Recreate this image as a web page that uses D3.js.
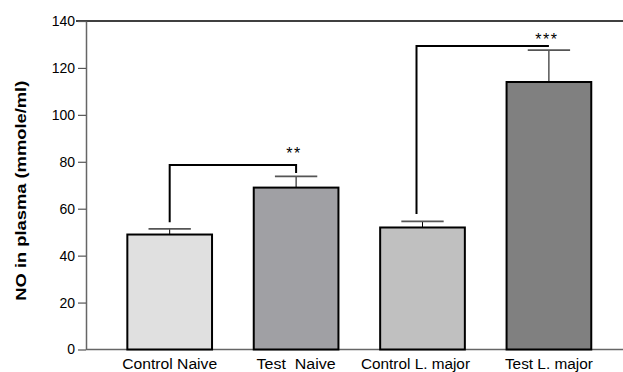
<!DOCTYPE html>
<html>
<head>
<meta charset="utf-8">
<script src="https://cdn.jsdelivr.net/npm/d3@7"></script>
<style>
  html, body { margin: 0; padding: 0; background: #fff; }
  svg { display: block; }
  text { font-family: Arial, "Liberation Sans", sans-serif; }
</style>
</head>
<body>
<svg id="chart" width="623" height="372"></svg>
<script>
const categories = ["Control Naive", "Test  Naive", "Control L. major", "Test L. major"];
const values = [49, 69, 52, 114];
const errors = [2.4, 4.8, 2.6, 13.6];
const barColors = ["#e0e0e0", "#a0a0a4", "#c0c0c0", "#808080"];
const yTicks = [0, 20, 40, 60, 80, 100, 120, 140];
const labelWidths = [95, 79, 109, 88];
const brackets = [
  { from: 0, to: 1, level: 78.6, leftEnd: 54.2, rightEnd: 75.2, label: "**", labelLevel: 85.4 },
  { from: 2, to: 3, level: 129.3, leftEnd: 57.7, rightEnd: 129.3, label: "***", labelLevel: 133.7 }
];

(function () {
const svg = d3.select("#chart");
const mLeft = 86, mBottom = 349.5, mTop = 21, mRight = 632.6;

const x = d3.scaleBand().domain(categories).range([mLeft, mRight]).paddingInner(0.33).paddingOuter(0.327);
const y = d3.scaleLinear().domain([0, 140]).range([mBottom, mTop]);
const bw = x.bandwidth();
const cx = c => x(c) + bw / 2;

// top frame line
svg.append("line")
  .attr("x1", 76).attr("x2", 623)
  .attr("y1", y(140)).attr("y2", y(140))
  .attr("stroke", "#000").attr("stroke-width", 1.3);

// y axis
const yAxis = svg.append("g")
  .attr("transform", `translate(${mLeft},0)`)
  .call(d3.axisLeft(y).tickValues(yTicks).tickSize(8).tickPadding(3).tickSizeOuter(0));
yAxis.select(".domain").attr("stroke", "#666").attr("stroke-width", 1.5);
yAxis.selectAll(".tick line").attr("stroke", "#555").attr("stroke-width", 1.2);
yAxis.selectAll(".tick text")
  .attr("font-size", 14).attr("fill", "#000")
  .attr("font-family", "Arial, 'Liberation Sans', sans-serif");

// x axis line
svg.append("line")
  .attr("x1", mLeft).attr("x2", 623)
  .attr("y1", mBottom).attr("y2", mBottom)
  .attr("stroke", "#666").attr("stroke-width", 1.5);

// y title
svg.append("text")
  .attr("transform", `translate(26,${(80.7 + 300.7) / 2}) rotate(-90)`)
  .attr("text-anchor", "middle")
  .attr("font-size", 14).attr("font-weight", "bold")
  .attr("textLength", 220).attr("lengthAdjust", "spacingAndGlyphs")
  .text("NO in plasma (mmole/ml)");

// error bars
categories.forEach((c, i) => {
  const hi = values[i] + errors[i];
  svg.append("line")
    .attr("x1", cx(c)).attr("x2", cx(c))
    .attr("y1", y(values[i])).attr("y2", y(hi))
    .attr("stroke", "#000").attr("stroke-width", 1);
  svg.append("line")
    .attr("x1", cx(c) - bw / 4).attr("x2", cx(c) + bw / 4)
    .attr("y1", y(hi)).attr("y2", y(hi))
    .attr("stroke", "#555").attr("stroke-width", 1.6);
});

// bars
svg.selectAll("rect.bar")
  .data(categories)
  .join("rect")
  .attr("class", "bar")
  .attr("x", d => x(d))
  .attr("y", (d, i) => y(values[i]))
  .attr("width", bw)
  .attr("height", (d, i) => y(0) - y(values[i]))
  .attr("fill", (d, i) => barColors[i])
  .attr("stroke", "#000").attr("stroke-width", 2);

// x labels
categories.forEach((c, i) => {
  svg.append("text")
    .attr("x", cx(c) - (i === 2 ? 7 : 0)).attr("y", 369)
    .attr("text-anchor", "middle")
    .attr("font-size", 14)
    .attr("textLength", labelWidths[i]).attr("lengthAdjust", "spacingAndGlyphs")
    .attr("xml:space", "preserve")
    .style("white-space", "pre")
    .text(c);
});

// significance brackets
brackets.forEach((b, j) => {
  const x1 = cx(categories[b.from]) - (j === 1 ? 6 : 0);
  const x2 = cx(categories[b.to]);
  const path = d3.path();
  path.moveTo(x1, y(b.leftEnd));
  path.lineTo(x1, y(b.level));
  path.lineTo(x2, y(b.level));
  path.lineTo(x2, y(b.rightEnd));
  svg.append("path")
    .attr("d", path.toString())
    .attr("fill", "none")
    .attr("stroke", "#000").attr("stroke-width", 2);
  svg.append("text")
    .attr("x", x2 - 2).attr("y", y(b.labelLevel))
    .attr("text-anchor", "middle")
    .attr("dominant-baseline", "central")
    .attr("font-size", 16)
    .attr("letter-spacing", 1.5)
    .attr("dy", "0.25em")
    .text(b.label);
});
})();
</script>
</body>
</html>
